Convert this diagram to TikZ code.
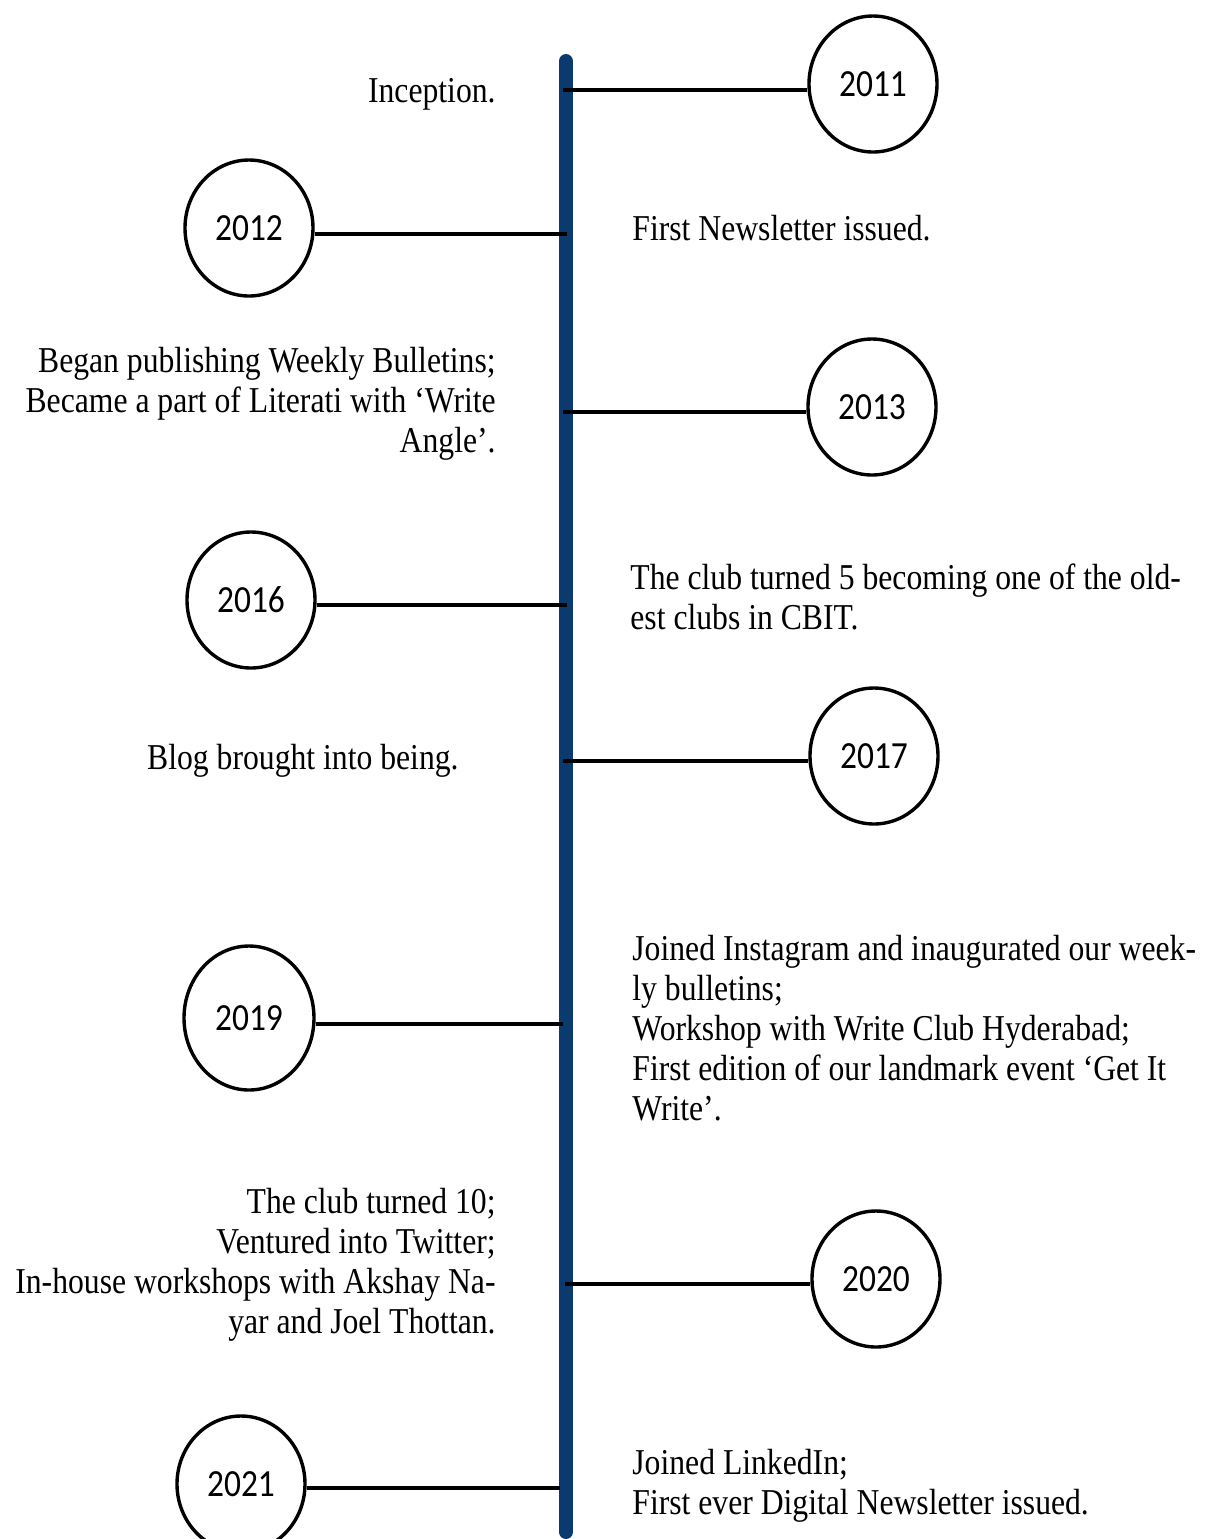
\documentclass[tikz,border=0pt]{standalone}
\usepackage{fontspec}
\setmainfont{Liberation Serif}[FakeStretch=0.87]
\newfontfamily\yearfont{Carlito}[FakeStretch=0.87]
\usetikzlibrary{shapes.geometric}
\definecolor{timeblue}{RGB}{11,59,110}
\tikzset{
	year/.style={draw, ellipse, line width=1.7pt, minimum width=64pt, minimum height=68pt, inner sep=0pt, font=\yearfont\fontsize{19.2}{20}\selectfont},
	event/.style={inner sep=0pt, font=\fontsize{18.2}{20}\selectfont},
	link/.style={line width=1.8pt},
	timeaxis/.style={line width=7pt, timeblue, line cap=round}
}
\begin{document}
\begin{tikzpicture}[x=0.5pt,y=-0.5pt]
		\useasboundingbox (0,0) rectangle (1222,1539);
		\clip (0,0) rectangle (1222,1539);
		\coordinate (top) at (566,61);
		\coordinate (bottom) at (566,1532);
		\draw[timeaxis] (top) -- (bottom);
		\node[year] (y2011) at (873,84) {2011};
		\node[year] (y2012) at (249,228) {2012};
		\node[year] (y2013) at (872,407) {2013};
		\node[year] (y2016) at (251,600) {2016};
		\node[year] (y2017) at (874,756) {2017};
		\node[year, minimum width=65pt, minimum height=72pt] (y2019) at (249,1018) {2019};
		\node[year] (y2020) at (876,1279) {2020};
		\node[year] (y2021) at (241,1484) {2021};
		\coordinate (t2011) at (563,90);
		\coordinate (t2012) at (567,234);
		\coordinate (t2013) at (563,412);
		\coordinate (t2016) at (567,605);
		\coordinate (t2017) at (563,761);
		\coordinate (t2019) at (563,1024);
		\coordinate (t2020) at (565,1284);
		\coordinate (t2021) at (560,1488);
		\draw[link] (t2011) -- (t2011 -| y2011.west);
		\draw[link] (t2012) -- (t2012 -| y2012.east);
		\draw[link] (t2013) -- (t2013 -| y2013.west);
		\draw[link] (t2016) -- (t2016 -| y2016.east);
		\draw[link] (t2017) -- (t2017 -| y2017.west);
		\draw[link] (t2019) -- (t2019 -| y2019.east);
		\draw[link] (t2020) -- (t2020 -| y2020.west);
		\draw[link] (t2021) -- (t2021 -| y2021.east);
		\node[event, anchor=east, align=right] (e2011) at (496,94) {Inception.};
		\node[event, anchor=west, align=left] (e2012) at (632,228) {First Newsletter issued.};
		\node[event, anchor=east, align=right] (e2013) at (496,404) {Began publishing Weekly Bulletins;\\Became a part of Literati with ‘Write\\Angle’.};
		\node[event, anchor=west, align=left] (e2016) at (630,597) {The club turned 5 becoming one of the old-\\est clubs in CBIT.};
		\node[event, anchor=east] (e2017) at (459,761) {Blog brought into being.};
		\node[event, anchor=west, align=left] (e2019) at (632,1028) {Joined Instagram and inaugurated our week-\\ly bulletins;\\Workshop with Write Club Hyderabad;\\First edition of our landmark event ‘Get It\\Write’.};
		\node[event, anchor=east, align=right] (e2020) at (496,1265) {The club turned 10;\\Ventured into Twitter;\\In-house workshops with Akshay Na-\\yar and Joel Thottan.};
		\node[event, anchor=west, align=left] (e2021) at (632,1486) {Joined LinkedIn;\\First ever Digital Newsletter issued.};
\end{tikzpicture}
\end{document}
